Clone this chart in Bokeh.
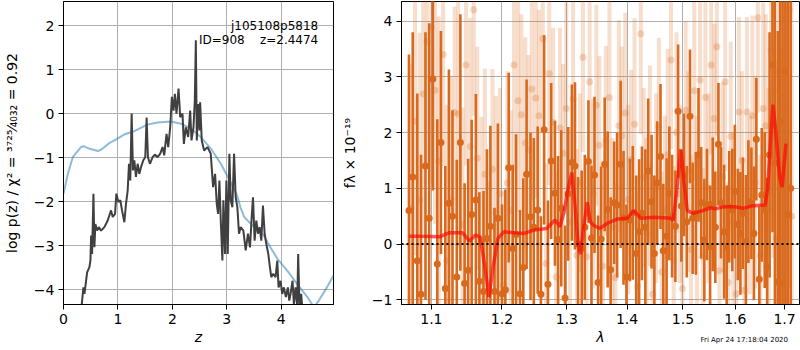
from bokeh.plotting import figure
from bokeh.layouts import row, column
from bokeh.models import Range1d, FixedTicker, CustomJSTickFormatter, Span, Label, ColumnDataSource, Div
from bokeh.embed import file_html
from bokeh.resources import INLINE

# ---------------- left panel: redshift probability ----------------
z_pz = [0.324, 0.366, 0.385, 0.434, 0.476, 0.495, 0.507, 0.525, 0.550, 0.568,
        0.586, 0.617, 0.647, 0.690, 0.751, 0.812, 0.873, 0.904, 0.947, 0.971,
        1.008, 1.044, 1.075, 1.118, 1.148, 1.179, 1.203, 1.227, 1.252, 1.276,
        1.301, 1.331, 1.362, 1.392, 1.423, 1.466, 1.502, 1.527, 1.551, 1.588,
        1.637, 1.679, 1.728, 1.777, 1.820, 1.850, 1.893, 1.924, 1.960, 1.991,
        2.021, 2.046, 2.076, 2.113, 2.144, 2.186, 2.211, 2.247, 2.290, 2.327,
        2.351, 2.388, 2.412, 2.431, 2.449, 2.473, 2.498, 2.510, 2.540, 2.583,
        2.644, 2.705, 2.748, 2.785, 2.815, 2.840, 2.864, 2.889, 2.919, 2.937,
        2.968, 2.992, 3.017, 3.047, 3.072, 3.102, 3.133, 3.163, 3.194, 3.224,
        3.255, 3.304, 3.347, 3.389, 3.426, 3.457, 3.481, 3.511, 3.542, 3.573,
        3.603, 3.634, 3.664, 3.695, 3.725, 3.762, 3.792, 3.817, 3.853, 3.896,
        3.927, 3.951, 3.988, 4.018, 4.049, 4.085, 4.122, 4.147, 4.171, 4.208,
        4.232, 4.263, 4.293, 4.311, 4.336, 4.366, 4.391]
log_pz = [-4.48, -3.95, -4.10, -3.61, -3.49, -3.34, -2.77, -3.19, -1.82, -3.04,
          -2.51, -2.66, -2.58, -2.66, -2.58, -2.43, -2.20, -2.35, -2.28, -1.82,
          -2.01, -1.97, -2.20, -2.47, -2.05, -1.75, -1.14, -1.52, 0.00, -1.29,
          -1.06, -1.44, -1.14, -1.37, -1.22, -1.06, -0.99, -0.09, -0.99, -1.14,
          -0.99, -0.93, -0.99, -0.91, -0.76, -0.95, -0.46, -0.76, -0.31, 0.38,
          0.07, 0.45, 0.00, 0.57, -0.08, 0.00, -0.69, -0.31, -0.53, 0.07,
          -0.61, -0.31, 0.30, 1.67, -0.61, 0.22, -0.38, 0.26, -0.61, -0.84,
          -0.76, -0.91, -1.67, -1.37, -2.05, -2.28, -1.52, -2.43, -3.34, -1.97,
          -3.19, -1.52, -3.19, -0.91, -1.97, -2.13, -0.91, -1.90, -2.13, -2.73,
          -2.58, -2.66, -3.11, -2.73, -3.04, -2.35, -1.90, -2.89, -2.43, -2.73,
          -2.58, -2.89, -2.09, -2.73, -2.96, -3.19, -3.49, -3.72, -3.64, -3.72,
          -3.34, -3.95, -3.80, -4.10, -3.95, -4.17, -3.95, -4.25, -4.10, -3.80,
          -4.33, -3.95, -4.40, -3.19, -4.40, -4.10, -4.48]

z_chi2 = [0.00, 0.08, 0.17, 0.32, 0.37, 0.48, 0.63, 0.69, 0.84, 0.96,
          1.12, 1.30, 1.54, 1.73, 1.97, 2.16, 2.34, 2.52, 2.71, 2.89,
          3.07, 3.19, 3.25, 3.32, 3.50, 3.68, 3.80, 3.93, 4.11, 4.29,
          4.48, 4.60, 4.69, 4.84, 4.96]
chi2_scaled = [-1.82, -1.37, -0.99, -0.76, -0.74, -0.80, -0.85, -0.82, -0.67, -0.59,
               -0.47, -0.40, -0.25, -0.20, -0.18, -0.23, -0.34, -0.53, -0.80, -1.14,
               -1.56, -1.86, -2.13, -2.35, -2.58, -2.77, -3.04, -3.30, -3.57, -3.87,
               -4.17, -4.40, -4.25, -3.95, -3.68]

z_ticks = [0, 1, 2, 3, 4]
pz_ticks = [-4, -3, -2, -1, 0, 1, 2]

# ---------------- right panel: spectrum ----------------
lam_a = [1.070, 1.075, 1.081, 1.086, 1.092, 1.097, 1.102, 1.108, 1.113, 1.119,
         1.124, 1.129, 1.135, 1.140, 1.146, 1.151, 1.156, 1.162, 1.167, 1.173,
         1.178, 1.183, 1.189, 1.194, 1.200, 1.205, 1.210, 1.216, 1.221, 1.227,
         1.232, 1.237, 1.243, 1.248, 1.254, 1.259, 1.264, 1.270, 1.275, 1.281,
         1.286, 1.291, 1.297, 1.302, 1.308, 1.313, 1.318, 1.324, 1.329, 1.335,
         1.340, 1.345, 1.351, 1.356, 1.362, 1.367, 1.372, 1.378, 1.383, 1.389,
         1.394, 1.399, 1.405, 1.410, 1.416, 1.421, 1.426, 1.432, 1.437, 1.443,
         1.448, 1.453, 1.459, 1.464, 1.470, 1.475, 1.480, 1.486, 1.491, 1.497,
         1.502, 1.507, 1.513, 1.518, 1.524, 1.529, 1.534, 1.540, 1.545, 1.551,
         1.556, 1.561, 1.567, 1.572, 1.578, 1.583, 1.588, 1.594, 1.599, 1.605,
         1.610, 1.615, 1.621, 1.626, 1.632, 1.637, 1.642, 1.648, 1.653, 1.659,
         1.664, 1.669, 1.675, 1.680, 1.686, 1.691, 1.696, 1.702, 1.707, 1.713]
flux_a = [0.6, 1.2, -0.3, -0.9, 1.4, 0.46, 2.96, -0.36, 1.82, -0.80,
          0.73, 0.5, -0.59, 1.82, -0.71, -0.47, 0.53, 0.79, -0.67, -0.85,
          0.1, 0.32, -0.85, 0.46, -0.89, -0.82, 1.37, -0.08, 0.17, -0.89,
          -0.42, 1.25, 0.49, 0.3, 0.61, -0.90, 2.05, -0.72, 1.49, 0.91,
          0.08, 0.64, -0.97, 0.9, 1.46, 1.40, 0.0, -0.08, 0.3, 1.48,
          0.11, 1.24, -0.69, 0.09, 1.43, 0.62, -0.46, 0.74, 0.70, 1.43,
          0.47, -0.59, 0.43, 0.56, -0.17, 0.22, 0.55, 0.3, 1.31, 0.76,
          -0.17, 1.10, 1.57, -0.12, 0.14, 0.91, 0.5, 0.32, 2.38, 0.68,
          1.24, 0.40, 2.29, 0.46, 0.55, 1.60, 0.74, 0.07, 0.71, -0.05,
          0.71, 0.3, 1.79, 0.74, 0.22, -0.05, 0.67, 0.61, 0.94, 0.35,
          0.19, 0.55, 0.04, 0.76, 0.73, 0.19, 1.88, -0.63, 0.88, 0.61,
          -0.41, 1.6, 3.21, 1.45, -0.68, 2.2, -0.7, 3.1, 0.53, 1.0]
err_a = [2.8, 2.6, 3.0, 2.5, 2.4, 3.5, 2.0, 2.6, 2.0, 2.2,
         2.4, 1.9, 2.1, 2.3, 1.8, 2.0, 1.7, 1.9, 1.6, 1.8,
         1.6, 1.8, 1.5, 1.7, 1.6, 1.8, 1.7, 1.5, 1.8, 1.5,
         1.6, 1.7, 1.5, 1.6, 1.5, 1.4, 1.7, 1.5, 1.4, 1.3,
         1.5, 1.4, 1.3, 1.2, 1.4, 1.5, 1.2, 1.4, 1.3, 1.1,
         1.3, 1.4, 1.2, 1.3, 1.2, 1.4, 1.3, 1.1, 1.3, 1.5,
         1.2, 1.3, 1.1, 1.2, 1.4, 1.3, 1.2, 1.4, 1.3, 1.2,
         1.4, 1.1, 1.3, 1.2, 1.4, 1.2, 1.1, 1.0, 1.2, 1.0,
         1.1, 1.0, 1.2, 1.0, 1.1, 1.2, 1.0, 1.1, 1.0, 1.1,
         1.2, 1.0, 1.1, 1.0, 1.2, 1.1, 1.0, 1.1, 1.2, 1.0,
         1.1, 1.0, 1.2, 1.1, 1.0, 1.2, 1.1, 1.3, 1.2, 1.4,
         1.6, 2.2, 3.0, 3.5, 4.5, 5.0, 5.5, 5.0, 5.5, 6.0]

lam_b = [1.073, 1.078, 1.084, 1.089, 1.094, 1.100, 1.105, 1.110, 1.116, 1.121,
         1.127, 1.132, 1.137, 1.143, 1.148, 1.154, 1.159, 1.164, 1.170, 1.175,
         1.181, 1.186, 1.191, 1.197, 1.202, 1.208, 1.213, 1.218, 1.224, 1.229,
         1.235, 1.240, 1.245, 1.251, 1.256, 1.262, 1.267, 1.272, 1.278, 1.283,
         1.289, 1.294, 1.299, 1.305, 1.310, 1.316, 1.321, 1.326, 1.332, 1.337,
         1.343, 1.348, 1.353, 1.359, 1.364, 1.370, 1.375, 1.380, 1.386, 1.391,
         1.397, 1.402, 1.407, 1.413, 1.418, 1.424, 1.429, 1.434, 1.440, 1.445,
         1.451, 1.456, 1.461, 1.467, 1.472, 1.478, 1.483, 1.488, 1.494, 1.499,
         1.505, 1.510, 1.515, 1.521, 1.526, 1.532, 1.537, 1.542, 1.548, 1.553,
         1.559, 1.564, 1.569, 1.575, 1.580, 1.586, 1.591, 1.596, 1.602, 1.607,
         1.613, 1.618, 1.623, 1.629, 1.634, 1.640, 1.645, 1.650, 1.656, 1.661,
         1.667, 1.672, 1.677, 1.683, 1.688, 1.694, 1.699, 1.704, 1.710, 1.715]
flux_b = [0.64, 2.2, 0.79, 2.69, 3.63, 3.89, 2.76, 1.48, 3.40, -0.3,
          0.80, 2.36, 2.33, 0.35, 3.21, 1.75, 4.2, 1.54, 0.08, 1.25,
          -0.87, 1.34, 0.56, 0.9, -0.74, 1.1, 0.6, 3.21, 2.57, 2.32,
          1.81, 1.69, 2.78, 2.62, 2.30, 3.68, -0.35, 3.06, 2.18, -0.59,
          2.08, 1.63, 2.43, 0.4, 2.60, -0.2, 1.1, 3.35, -0.23, 2.91,
          0.9, 2.49, 1.77, -0.4, 1.85, 2.63, 0.3, -0.6, 2.12, 1.94,
          2.35, 0.8, 1.52, 2.15, -0.76, 3.77, 1.2, 0.2, 1.4, -0.9,
          1.0, 2.1, -0.5, 0.6, 1.6, 3.30, -0.3, 2.0, 0.9, -0.8,
          2.40, 1.3, -0.1, 2.75, 0.5, 2.94, -0.23, 2.63, 1.0, 3.21,
          2.25, 3.54, -0.48, 1.2, 2.91, -0.69, 1.93, 0.4, -0.89, 2.37,
          1.5, -0.83, 2.37, 0.7, 2.30, 1.1, 4.06, -0.2, 2.43, 2.12,
          0.6, 3.48, 2.75, 0.1, 3.1, -0.5, 2.45, 1.8, 4.2, 0.5]
err_b = [2.6, 2.4, 3.0, 2.5, 2.2, 2.8, 2.4, 2.6, 2.0, 2.8,
         2.2, 1.9, 2.4, 2.1, 1.8, 2.3, 1.9, 2.0, 2.2, 1.9,
         2.0, 1.8, 2.1, 1.9, 1.7, 2.0, 1.8, 1.9, 2.0, 1.8,
         1.9, 1.7, 2.0, 1.8, 1.9, 1.6, 1.8, 2.0, 1.7, 1.9,
         1.8, 1.6, 1.9, 1.7, 1.8, 1.9, 1.6, 1.7, 1.8, 1.9,
         1.7, 1.8, 1.6, 1.9, 1.7, 1.8, 1.6, 1.7, 1.9, 1.6,
         1.8, 1.7, 1.6, 1.9, 1.7, 1.8, 1.6, 1.7, 1.8, 1.6,
         1.7, 1.6, 1.8, 1.7, 1.9, 1.6, 1.7, 1.8, 1.6, 1.7,
         1.6, 1.8, 1.7, 1.6, 1.8, 1.7, 1.6, 1.9, 1.7, 1.6,
         1.7, 1.6, 1.8, 1.7, 1.6, 1.8, 1.7, 1.6, 1.9, 1.7,
         1.6, 1.8, 1.7, 1.6, 1.8, 1.9, 1.7, 1.8, 1.9, 2.0,
         2.2, 2.6, 3.0, 3.2, 3.6, 4.0, 4.2, 4.5, 5.0, 5.0]

lam_model = [1.070, 1.088, 1.111, 1.124, 1.143, 1.153, 1.161, 1.168, 1.175, 1.181,
             1.187, 1.194, 1.203, 1.218, 1.233, 1.248, 1.268, 1.281, 1.289, 1.296,
             1.302, 1.308, 1.313, 1.318, 1.322, 1.327, 1.333, 1.338, 1.344, 1.354,
             1.368, 1.384, 1.400, 1.412, 1.424, 1.448, 1.478, 1.482, 1.489, 1.496,
             1.502, 1.508, 1.519, 1.537, 1.552, 1.561, 1.579, 1.598, 1.615, 1.632,
             1.660, 1.665, 1.672, 1.676, 1.682, 1.690, 1.695, 1.703]
flux_model = [0.14, 0.14, 0.13, 0.20, 0.20, 0.05, 0.16, 0.13, -0.41, -0.95,
              -0.41, 0.10, 0.22, 0.20, 0.19, 0.25, 0.28, 0.43, 0.31, 0.61,
              1.00, 1.28, 0.70, 0.00, -0.18, 0.30, 0.75, 0.40, 0.33, 0.28,
              0.38, 0.45, 0.46, 0.60, 0.46, 0.48, 0.46, 0.42, 1.00, 1.70,
              1.10, 0.60, 0.55, 0.60, 0.65, 0.63, 0.67, 0.67, 0.64, 0.68,
              0.70, 1.00, 2.00, 2.50, 2.00, 1.20, 1.02, 1.80]

lam_ticks = [1.1, 1.2, 1.3, 1.4, 1.5, 1.6, 1.7]
flux_ticks = [-1, 0, 1, 2, 3, 4]
timestamp = "Fri Apr 24 17:18:04 2020"

FONT = "DejaVu Sans"
DARK = "#d9691c"
NBSP = "\u00a0"
MINUS_FMT = "return (tick < 0 ? '\u2212' : '') + Math.abs(tick).toFixed(0);"


def style(p):
    p.background_fill_color = "white"
    p.border_fill_color = "white"
    p.outline_line_color = "black"
    p.outline_line_width = 1
    for ax in (p.xaxis, p.yaxis):
        ax.axis_line_color = "black"
        ax.major_tick_line_color = "black"
        ax.major_tick_out = 5
        ax.major_tick_in = 0
        ax.minor_tick_line_color = None
        ax.major_label_text_font = FONT
        ax.major_label_text_font_size = "14px"
        ax.major_label_text_color = "black"
        ax.axis_label_text_font = FONT
        ax.axis_label_text_font_size = "14px"
        ax.axis_label_text_color = "black"
        ax.major_label_standoff = 4
    p.xgrid.grid_line_color = "#b0b0b0"
    p.ygrid.grid_line_color = "#b0b0b0"
    p.xgrid.grid_line_width = 1
    p.ygrid.grid_line_width = 1


# ---- left figure ----
p1 = figure(width=338, height=350, x_range=Range1d(0, 4.96), y_range=Range1d(-4.34, 2.55),
            output_backend="svg", toolbar_location=None,
            min_border_left=62, min_border_right=5, min_border_top=1, min_border_bottom=46)
style(p1)
p1.xaxis.ticker = FixedTicker(ticks=z_ticks)
p1.yaxis.ticker = FixedTicker(ticks=pz_ticks)
p1.xaxis.formatter = CustomJSTickFormatter(code=MINUS_FMT)
p1.yaxis.formatter = CustomJSTickFormatter(code=MINUS_FMT)
p1.xaxis.axis_label = "z"
p1.xaxis.axis_label_text_font_style = "italic"
p1.xaxis.axis_label_standoff = 2
p1.yaxis.axis_label = "log p(z) / \u03c7\u00b2 = \u00b3\u2077\u00b2\u2075\u2044\u2084\u2080\u2083\u2082 = 0.92"
p1.yaxis.axis_label_text_font_style = "normal"
p1.yaxis.axis_label_standoff = 11

p1.line(z_chi2, chi2_scaled, line_color="#1f77b4", line_alpha=0.5, line_width=2)
p1.line(z_pz, log_pz, line_color="#404040", line_width=2)

p1.add_layout(Label(x=4.68, y=2.0, text="j105108p5818", text_align="right",
                    text_baseline="alphabetic", text_font=FONT, text_font_size="12px",
                    text_color="black"))
p1.add_layout(Label(x=4.68, y=1.68, text="ID=908" + NBSP * 4 + "z=2.4474", text_align="right",
                    text_baseline="alphabetic", text_font=FONT, text_font_size="12px",
                    text_color="black"))

# ---- right figure ----
p2 = figure(width=462, height=350, x_axis_type="log",
            x_range=Range1d(1.0602, 1.7317), y_range=Range1d(-1.085, 4.35),
            output_backend="svg", toolbar_location=None,
            min_border_left=54, min_border_right=1, min_border_top=1, min_border_bottom=46)
style(p2)
p2.xaxis.ticker = FixedTicker(ticks=lam_ticks)
p2.xgrid.ticker = FixedTicker(ticks=lam_ticks)
p2.yaxis.ticker = FixedTicker(ticks=flux_ticks)
p2.xaxis.formatter = CustomJSTickFormatter(code="return tick.toFixed(1);")
p2.yaxis.formatter = CustomJSTickFormatter(code=MINUS_FMT)
p2.xaxis.axis_label = "\u03bb"
p2.xaxis.axis_label_text_font_style = "italic"
p2.xaxis.axis_label_standoff = 2
p2.yaxis.axis_label = "f\u03bb \u00d7 10\u207b\u00b9\u2079"
p2.yaxis.axis_label_text_font_style = "normal"
p2.yaxis.axis_label_standoff = 11

src_b = ColumnDataSource(dict(lam=lam_b, flux=flux_b,
                              lo=[f - e for f, e in zip(flux_b, err_b)],
                              hi=[f + e for f, e in zip(flux_b, err_b)]))
src_a = ColumnDataSource(dict(lam=lam_a, flux=flux_a,
                              lo=[f - e for f, e in zip(flux_a, err_a)],
                              hi=[f + e for f, e in zip(flux_a, err_a)]))

p2.segment(x0="lam", y0="lo", x1="lam", y1="hi", source=src_b,
           line_color=DARK, line_alpha=0.22, line_width=4)
p2.scatter(x="lam", y="flux", source=src_b, size=7, fill_color=DARK, fill_alpha=0.25,
           line_color=None)
p2.segment(x0="lam", y0="lo", x1="lam", y1="hi", source=src_a,
           line_color=DARK, line_alpha=1.0, line_width=2.6)
p2.scatter(x="lam", y="flux", source=src_a, size=7, fill_color=DARK, line_color=None)
p2.line(lam_model, flux_model, line_color="red", line_alpha=0.65, line_width=3.5)
p2.add_layout(Span(location=0, dimension="width", line_color="black",
                   line_width=2, line_dash="2 3"))

stamp = Div(text=timestamp, width=788, height=10, margin=(-15, 0, 0, 0),
            styles={"font-size": "7px", "font-family": "DejaVu Sans", "text-align": "right",
                    "line-height": "10px", "color": "black"})

layout = column(row(p1, p2), stamp)
open("out.html", "w").write(file_html(layout, INLINE, title="redshift fit"))
